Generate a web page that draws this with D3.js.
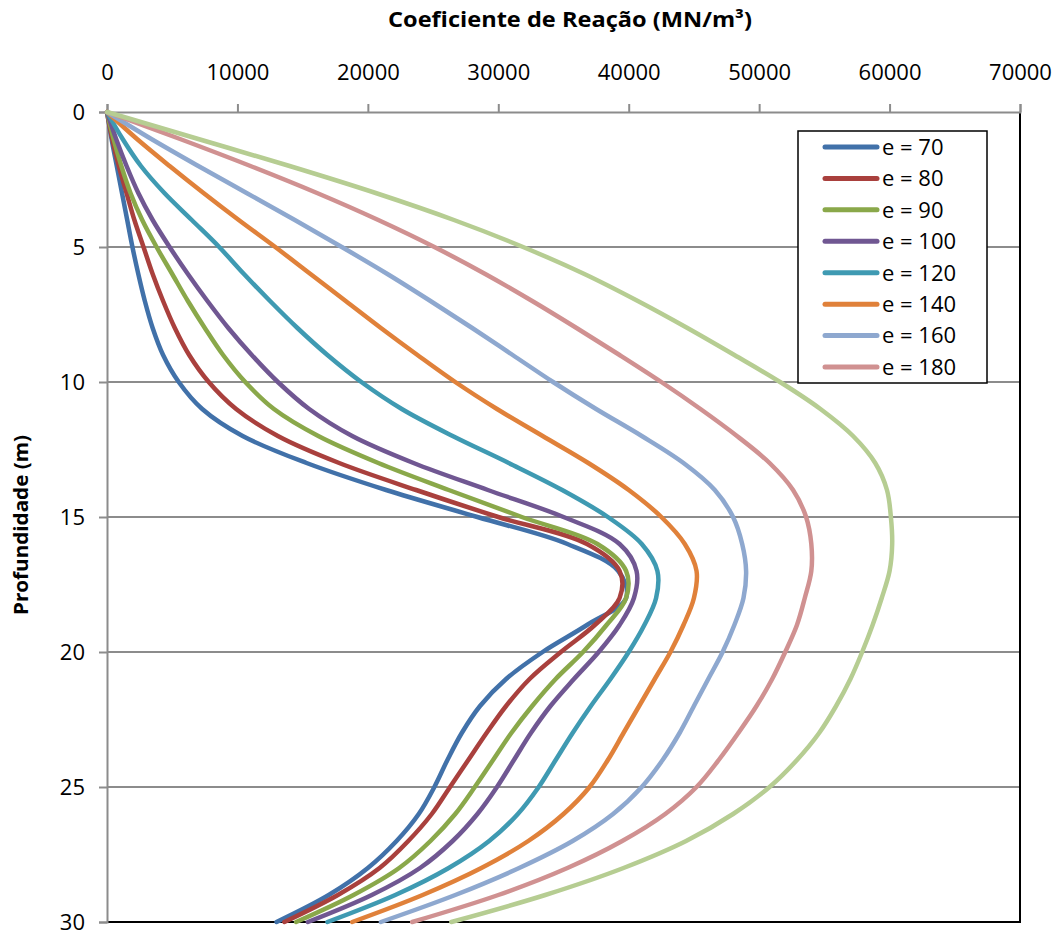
<!DOCTYPE html>
<html>
<head>
<meta charset="utf-8">
<script src="https://cdn.jsdelivr.net/npm/d3@7"></script>
<style>
  body { margin: 0; background: #fff; }
  text { font-family: "Open Sans", "Liberation Sans", sans-serif; }
</style>
</head>
<body>
<svg id="chart" width="1059" height="933"></svg>
<script>
// depth (m), one point per metre
var depths = d3.range(0, 31);

// coefficient de reação, in thousands of MN/m³
var e70  = [0,0.35,0.75,1.15,1.55,1.95,2.4,2.9,3.5,4.3,5.5,7.3,10.4,15.3,21.4,28.4,35.3,39.2,39.8,36.8,33.4,30.6,28.6,27.2,26.1,25.1,23.9,22.2,20.0,17.0,13.0];
var e80  = [0,0.4,0.9,1.5,2.1,2.8,3.5,4.3,5.2,6.3,7.8,9.9,13.1,17.8,23.7,30.0,36.8,39.3,39.3,37.4,34.8,32.4,30.6,29.1,27.7,26.3,24.9,23.1,20.9,17.7,13.6];
var e90  = [0,0.5,1.1,1.8,2.7,3.8,5.0,6.2,7.5,8.9,10.6,12.8,16.2,20.8,26.2,31.8,37.6,39.8,39.8,38.3,36.5,34.4,32.6,31.0,29.6,28.2,26.7,24.8,22.4,18.9,14.5];
var e100 = [0,0.7,1.5,2.4,3.5,4.8,6.2,7.7,9.3,11.1,13.1,15.5,18.8,23.5,29.2,35.0,39.3,40.6,40.4,39.3,37.7,35.8,34.0,32.5,31.2,29.9,28.4,26.5,24.0,20.3,15.4];
var e120 = [0,1.2,2.6,4.4,6.5,8.6,10.5,12.5,14.6,16.9,19.5,22.6,26.5,30.8,34.9,38.4,41.0,42.2,42.1,41.2,40.0,38.6,37.1,35.7,34.4,33.1,31.5,29.3,26.2,22.1,16.9];
var e140 = [0,2.3,4.8,7.4,10.1,12.9,15.6,18.3,21.0,23.8,26.7,29.9,33.4,36.9,40.0,42.5,44.3,45.2,45.0,44.2,43.2,42.0,40.8,39.6,38.4,37.0,35.0,32.3,28.7,24.2,18.8];
var e160 = [0,3.4,7.0,10.7,14.4,18.0,21.5,24.8,28.0,31.1,34.2,37.5,41.0,44.2,46.6,48.0,48.7,49.0,48.8,48.1,47.2,46.1,45.0,43.9,42.6,41.0,38.8,35.7,31.6,26.7,21.0];
var e180 = [0,5.6,11.0,16.1,20.8,25.1,29.0,32.6,36.0,39.3,42.5,45.5,48.3,50.8,52.6,53.6,54.0,54.0,53.5,52.9,52.0,51.0,49.8,48.4,46.9,45.2,42.8,39.5,35.3,30.0,23.4];
var e200 = [0,7.0,14.0,20.6,26.6,31.9,36.6,40.7,44.5,48.1,51.6,54.7,57.2,58.9,59.8,60.1,60.2,60.0,59.4,58.7,57.9,57.0,55.9,54.6,52.9,50.8,48.0,44.4,39.6,33.6,26.4];

var seriesNames = ["e = 70", "e = 80", "e = 90", "e = 100", "e = 120", "e = 140", "e = 160", "e = 180", "e = 200"];
var seriesValues = [e70, e80, e90, e100, e120, e140, e160, e180, e200];
var seriesColors = ["#4171a9", "#a9403d", "#8aa84a", "#705792", "#3f9ab2", "#e0813a", "#8ea8cf", "#d09191", "#b6cd92"];
var legendCount = 8; // the last series has no legend entry in the original

var xTicks = [0, 10000, 20000, 30000, 40000, 50000, 60000, 70000];
var yTicks = [0, 5, 10, 15, 20, 25, 30];

var svg = d3.select("#chart");
var plotLeft = 107, plotRight = 1020, plotTop = 112, plotBottom = 922;

var x = d3.scaleLinear().domain([0, 70000]).range([plotLeft, plotRight]);
var y = d3.scaleLinear().domain([0, 30]).range([plotTop, plotBottom]);

// horizontal gridlines
svg.append("g")
    .selectAll("line")
    .data(yTicks.slice(1, -1))
    .join("line")
    .attr("x1", plotLeft).attr("x2", plotRight)
    .attr("y1", d => y(d)).attr("y2", d => y(d))
    .attr("stroke", "#8c8c8c")
    .attr("stroke-width", 2);

// right + bottom frame
svg.append("path")
    .attr("d", `M${plotRight},${plotTop} V${plotBottom} H${plotLeft}`)
    .attr("fill", "none")
    .attr("stroke", "#000")
    .attr("stroke-width", 2);

// top axis
var xAxis = svg.append("g")
    .attr("transform", `translate(0,${plotTop})`)
    .call(d3.axisTop(x).tickValues(xTicks).tickFormat(d3.format("d")).tickSize(8).tickPadding(24));
xAxis.select(".domain").attr("stroke", "#8c8c8c").attr("stroke-width", 2);
xAxis.selectAll(".tick line").attr("stroke", "#8c8c8c").attr("stroke-width", 2);
xAxis.selectAll(".tick text")
    .attr("fill", "#000")
    .style("font-size", "22px")
    .style("font-family", "'Open Sans', sans-serif");

// left axis
var yAxis = svg.append("g")
    .attr("transform", `translate(${plotLeft},0)`)
    .call(d3.axisLeft(y).tickValues(yTicks).tickSize(8).tickPadding(14));
yAxis.select(".domain").attr("stroke", "#8c8c8c").attr("stroke-width", 2);
yAxis.selectAll(".tick line").attr("stroke", "#8c8c8c").attr("stroke-width", 2);
yAxis.selectAll(".tick text")
    .attr("fill", "#000")
    .attr("dy", "0.34em")
    .style("font-size", "22px")
    .style("font-family", "'Open Sans', sans-serif");

// curves
var line = d3.line()
    .x(d => x(d.v * 1000))
    .y(d => y(d.depth))
    .curve(d3.curveCatmullRom.alpha(0.5));

svg.append("g")
    .selectAll("path")
    .data(seriesValues)
    .join("path")
    .attr("d", vals => line(vals.map((v, i) => ({ v: v, depth: depths[i] }))))
    .attr("fill", "none")
    .attr("stroke", (d, i) => seriesColors[i])
    .attr("stroke-width", 4.5)
    .attr("stroke-linecap", "round")
    .attr("stroke-linejoin", "round");

// legend
var legend = svg.append("g");
legend.append("rect")
    .attr("x", 798).attr("y", 131)
    .attr("width", 189).attr("height", 252)
    .attr("fill", "#fff")
    .attr("stroke", "#000")
    .attr("stroke-width", 1.5);

var rowY = d3.scaleLinear().domain([0, 7]).range([147, 367]);
var items = legend.selectAll("g.item")
    .data(seriesNames.slice(0, legendCount))
    .join("g")
    .attr("class", "item")
    .attr("transform", (d, i) => `translate(0,${rowY(i)})`);
items.append("line")
    .attr("x1", 825).attr("x2", 877)
    .attr("stroke", (d, i) => seriesColors[i])
    .attr("stroke-width", 5)
    .attr("stroke-linecap", "round");
items.append("text")
    .attr("x", 882)
    .attr("dy", "0.36em")
    .style("font-size", "22px")
    .text(d => d);

// titles
svg.append("text")
    .attr("x", 570).attr("y", 27)
    .attr("text-anchor", "middle")
    .attr("textLength", 364)
    .attr("lengthAdjust", "spacingAndGlyphs")
    .style("font-size", "21px")
    .style("font-weight", "bold")
    .text("Coeficiente de Reação (MN/m³)");

svg.append("text")
    .attr("transform", "translate(28,525) rotate(-90)")
    .attr("text-anchor", "middle")
    .attr("textLength", 180)
    .attr("lengthAdjust", "spacingAndGlyphs")
    .style("font-size", "19px")
    .style("font-weight", "bold")
    .text("Profundidade (m)");
</script>
</body>
</html>
